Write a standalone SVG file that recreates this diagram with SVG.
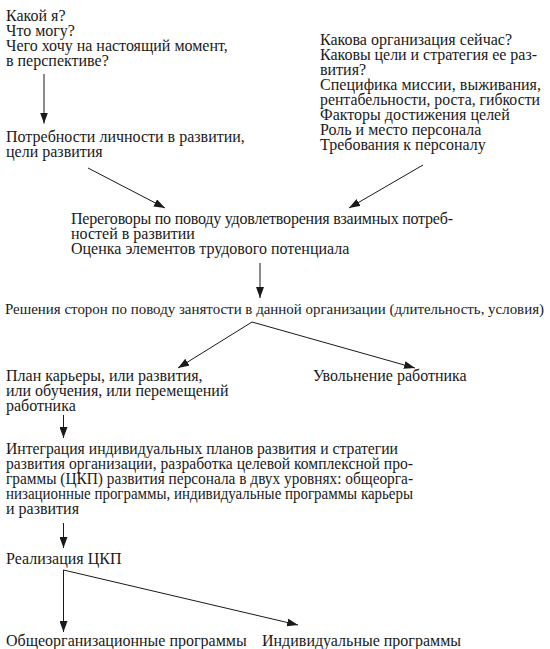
<svg xmlns="http://www.w3.org/2000/svg" width="550" height="649" viewBox="0 0 550 649">
<style>
text{font-family:"Liberation Serif","Times New Roman",serif;font-size:16px;fill:#1a1a1a}
.c{stroke:#1a1a1a;stroke-width:1;fill:none;marker-end:url(#ah)}
</style>
<defs>
<marker id="ah" markerWidth="11" markerHeight="8" refX="11" refY="4" orient="auto" markerUnits="userSpaceOnUse"><path d="M0,0 L11,4 L0,8 z" fill="#1a1a1a"/></marker>
</defs>
<rect width="550" height="649" fill="#fff"/>
<g id="questions">
<text x="6" y="20.5">Какой я?</text>
<text x="6" y="35.5">Что могу?</text>
<text x="6" y="50.5">Чего хочу на настоящий момент,</text>
<text x="6" y="65.5">в перспективе?</text>
</g>
<g id="needs">
<text x="6" y="141.5">Потребности личности в развитии,</text>
<text x="6" y="156.5">цели развития</text>
</g>
<g id="organization">
<text x="320" y="45">Какова организация сейчас?</text>
<text x="320" y="60" textLength="217" lengthAdjust="spacing">Каковы цели и стратегия ее раз-</text>
<text x="320" y="75">вития?</text>
<text x="320" y="90" textLength="221" lengthAdjust="spacing">Специфика миссии, выживания,</text>
<text x="320" y="105" textLength="220" lengthAdjust="spacingAndGlyphs">рентабельности, роста, гибкости</text>
<text x="320" y="120">Факторы достижения целей</text>
<text x="320" y="135">Роль и место персонала</text>
<text x="320" y="150">Требования  к персоналу</text>
</g>
<g id="negotiations">
<text x="71" y="224" textLength="382" lengthAdjust="spacing">Переговоры по поводу удовлетворения взаимных потреб-</text>
<text x="71" y="239">ностей в развитии</text>
<text x="71" y="254">Оценка элементов трудового потенциала</text>
</g>
<g id="decisions">
<text x="5" y="313.5" style="font-size:15px" textLength="539" lengthAdjust="spacingAndGlyphs">Решения сторон по поводу занятости в данной организации (длительность, условия)</text>
</g>
<g id="plan">
<text x="6" y="381">План карьеры, или развития,</text>
<text x="6" y="396">или обучения, или перемещений</text>
<text x="6" y="411">работника</text>
</g>
<g id="dismissal">
<text x="313" y="381">Увольнение работника</text>
</g>
<g id="integration">
<text x="6" y="454" textLength="392" lengthAdjust="spacingAndGlyphs">Интеграция индивидуальных планов развития и стратегии</text>
<text x="6" y="469" textLength="407" lengthAdjust="spacingAndGlyphs">развития организации, разработка целевой комплексной про-</text>
<text x="6" y="484" textLength="407" lengthAdjust="spacingAndGlyphs">граммы (ЦКП) развития персонала в двух уровнях: общеорга-</text>
<text x="6" y="499" textLength="407" lengthAdjust="spacingAndGlyphs">низационные программы, индивидуальные программы карьеры</text>
<text x="6" y="514">и развития</text>
</g>
<g id="realization">
<text x="6" y="564">Реализация ЦКП</text>
</g>
<g id="general">
<text x="6" y="646">Общеорганизационные программы</text>
</g>
<g id="individual">
<text x="262" y="646">Индивидуальные программы</text>
</g>
<g id="connectors">
<line class="c" x1="44" y1="74" x2="44" y2="123.5"/>
<line class="c" x1="88" y1="168" x2="165" y2="208"/>
<line class="c" x1="423" y1="165" x2="349" y2="208"/>
<line class="c" x1="260" y1="263" x2="260" y2="298"/>
<line class="c" x1="252" y1="322" x2="178" y2="368"/>
<line class="c" x1="252" y1="322" x2="415" y2="368"/>
<line class="c" x1="63.5" y1="415" x2="63.5" y2="438"/>
<line class="c" x1="63.5" y1="523" x2="63.5" y2="548"/>
<line class="c" x1="63.5" y1="570" x2="63.5" y2="632"/>
<line class="c" x1="63.5" y1="570" x2="298" y2="625"/>
</g>
</svg>
